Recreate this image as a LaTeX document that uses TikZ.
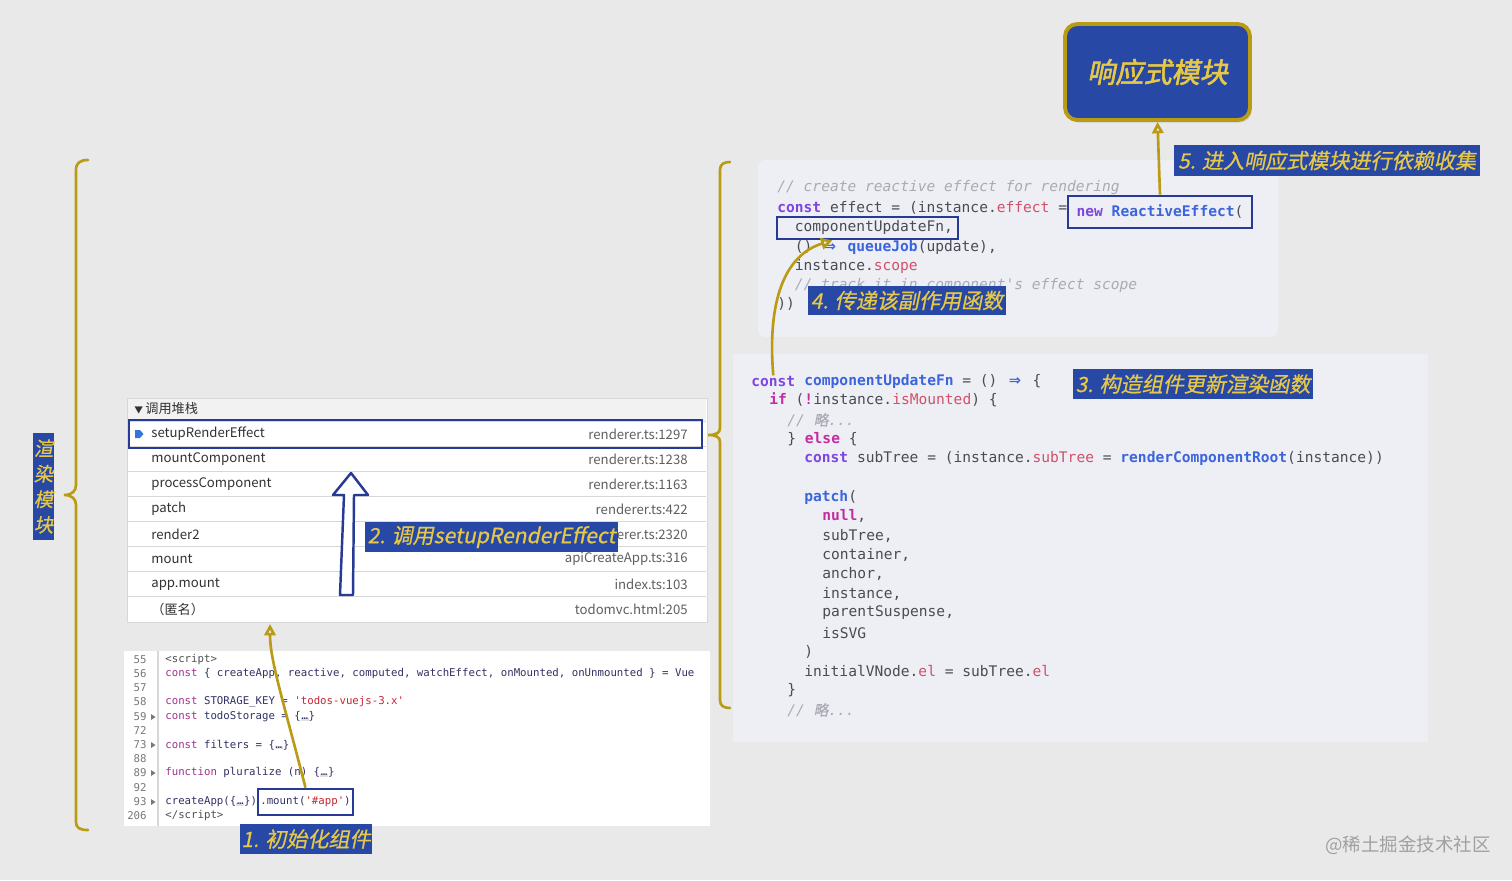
\documentclass[tikz,border=0pt]{standalone}
\usepackage{fontspec}
\setmonofont{DejaVu Sans Mono}
\newfontfamily\cjk{Noto Sans CJK SC}
\newfontfamily\cjkit[FakeSlant=0.2,FakeBold=0.6]{Noto Sans CJK SC}
\newfontfamily\cjkbf[FakeSlant=0.2,FakeBold=2]{Noto Sans CJK SC}
\newfontfamily\arrowfont{DejaVu Sans}
\usetikzlibrary{arrows.meta,fit,shadows}

\definecolor{bggray}{RGB}{233,233,233}
\definecolor{panelbg}{RGB}{237,239,245}
\definecolor{lblue}{RGB}{40,72,165}
\definecolor{lyellow}{RGB}{230,200,70}
\definecolor{gold}{RGB}{185,155,20}
\definecolor{navy}{RGB}{38,58,150}
\definecolor{codetext}{RGB}{75,75,85}
\definecolor{kwpurple}{RGB}{125,70,225}
\definecolor{kwmag}{RGB}{195,45,160}
\definecolor{fnblue}{RGB}{60,100,220}
\definecolor{prred}{RGB}{210,80,105}
\definecolor{cmgray}{RGB}{170,170,180}
\definecolor{stacktext}{RGB}{50,50,50}
\definecolor{filegray}{RGB}{95,95,95}
\definecolor{linegray}{RGB}{215,215,215}
\definecolor{headgray}{RGB}{242,242,242}
\definecolor{numgray}{RGB}{120,120,120}
\definecolor{skwcol}{RGB}{160,50,140}
\definecolor{sidcol}{RGB}{50,50,100}
\definecolor{sstcol}{RGB}{195,40,50}
\definecolor{tagcol}{RGB}{80,80,80}
\definecolor{elbg}{RGB}{225,225,225}
\definecolor{markgray}{RGB}{160,160,160}
\definecolor{markblue}{RGB}{50,120,220}

% code colouring
\newcommand\kw[1]{\textcolor{kwpurple}{\bfseries #1}}
\newcommand\mg[1]{\textcolor{kwmag}{\bfseries #1}}
\newcommand\fnc[1]{\textcolor{fnblue}{\bfseries #1}}
\newcommand\prp[1]{\textcolor{prred}{#1}}
\newcommand\cmt[1]{\textcolor{cmgray}{\itshape #1}}
\newcommand\skw[1]{\textcolor{skwcol}{#1}}
\newcommand\sst[1]{\textcolor{sstcol}{#1}}
\newcommand\darr{\makebox[1.204em]{\textcolor{fnblue}{\arrowfont\bfseries ⇒}}}
\newcommand\ellbox{\begingroup\setlength\fboxsep{0.4pt}\colorbox{elbg}{…}\endgroup}

\tikzset{
  lbl/.style={fill=lblue, text=lyellow, inner sep=0pt, font=\cjkit\fontsize{12}{14}\selectfont},
  hilite/.style={draw=navy, line width=1.5pt, inner sep=0pt},
  code/.style={anchor=west, inner sep=0pt, text=codetext, font=\ttfamily\fontsize{8.3}{11}\selectfont},
  scode/.style={anchor=west, inner sep=0pt, text=sidcol, font=\ttfamily\fontsize{6.1}{8}\selectfont},
  lnum/.style={anchor=east, inner sep=0pt, text=numgray, font=\ttfamily\fontsize{6.1}{8}\selectfont},
  stackname/.style={anchor=west, inner sep=0pt, text=stacktext, font=\cjk\fontsize{7.5}{9}\selectfont},
  stackfile/.style={anchor=east, inner sep=0pt, text=filegray, font=\cjk\fontsize{7.5}{9}\selectfont},
  rowsep/.style={draw=linegray, line width=0.6pt},
  brace/.style={draw=gold, line width=1.5pt, line cap=round},
  goldarrow/.style={draw=gold, line width=1.5pt, -{Triangle[open, length=6.5pt, width=6.5pt]}},
}

\begin{document}
\begin{tikzpicture}[x=0.02cm, y=-0.02cm]

  % --- Canvas ---
  \fill[bggray] (0,0) rectangle (1512,880);
  \useasboundingbox (0,0) rectangle (1512,880);

  % --- Reactive module ---
  \node[minimum width=3.7cm, minimum height=1.92cm, inner sep=0pt, rounded corners=7pt,
        draw=gold, line width=2.2pt, fill=lblue, text=lyellow,
        drop shadow={opacity=0.25, shadow xshift=1pt, shadow yshift=-1.5pt},
        font=\cjkbf\fontsize{16}{18}\selectfont] (reactive) at (1157.5,72) {响应式模块};

  % --- Effect code panel ---
  \fill[panelbg, rounded corners=4pt] (758,160) rectangle (1278,337);
  \node[code] (t1) at (777,188) {\cmt{// create reactive effect for rendering}};
  \node[code] (t2) at (777,208) {\kw{const} effect = (instance.\prp{effect} =};
  \node[code] (t3) at (794.5,227) {componentUpdateFn,};
  \node[code] (t4) at (794.5,247) {() \darr{} \fnc{queueJob}(update),};
  \node[code] (t5) at (794.5,266) {instance.\prp{scope}};
  \node[code] (t6) at (794.5,285) {\cmt{// track it in component's effect scope}};
  \node[code] (t7) at (777,304) {))};
  \node[hilite, minimum width=3.62cm, minimum height=0.44cm] (cubox) at (867.5,228) {};
  \node[hilite, minimum width=3.68cm, minimum height=0.64cm, text=codetext,
        font=\ttfamily\fontsize{8.3}{11}\selectfont] (newre) at (1160,212) {\kw{new} \fnc{ReactiveEffect}(};

  % --- Update function code panel ---
  \fill[panelbg] (733,354) rectangle (1428,742);
  \node[code] (cuconst) at (751,381) {\kw{const}};
  \node[code] (b1) at (804,381) {\fnc{componentUpdateFn} = () \darr{} \{};
  \node[code] (b2) at (769,400) {\mg{if} (\mg{!}instance.\prp{isMounted}) \{};
  \node[code] (b3) at (787,420) {\cmt{// {\cjkit 略}...}};
  \node[code] (b4) at (787,439) {\} \mg{else} \{};
  \node[code] (b5) at (804,458) {\kw{const} subTree = (instance.\prp{subTree} = \fnc{renderComponentRoot}(instance))};
  \node[code] (b6) at (804,497) {\fnc{patch}(};
  \node[code] (b7) at (822,516) {\mg{null},};
  \node[code] (b8) at (822,536) {subTree,};
  \node[code] (b9) at (822,555) {container,};
  \node[code] (b10) at (822,574) {anchor,};
  \node[code] (b11) at (822,594) {instance,};
  \node[code] (b12) at (822,613) {parentSuspense,};
  \node[code] (b13) at (822,633) {isSVG};
  \node[code] (b14) at (804,652) {)};
  \node[code] (b15) at (804,671) {initialVNode.\prp{el} = subTree.\prp{el}};
  \node[code] (b16) at (787,690) {\}};
  \node[code] (b17) at (787,710) {\cmt{// {\cjkit 略}...}};

  % labels 3-5
  \node[lbl, minimum width=4.8cm, minimum height=0.6cm] (l3) at (1193,384) {3. 构造组件更新渲染函数};
  \node[lbl, minimum width=3.96cm, minimum height=0.58cm] (l4) at (907,300.5) {4. 传递该副作用函数};
  \node[lbl, minimum width=6.12cm, minimum height=0.62cm] (l5) at (1327,160.5) {5. 进入响应式模块进行依赖收集};

  \draw[goldarrow] (newre.north) -- (reactive.south);
  \draw[goldarrow] (cuconst.north) .. controls (767,300) and (785,255) .. ([xshift=-0.7cm]cubox.south);

  % --- Middle brace ---
  \draw[brace] (730,162) .. controls (724,162) and (720,164) .. (720,170) -- (720,428)
    .. controls (720,433) and (716,435) .. (708,435)
    .. controls (716,435) and (720,437) .. (720,442) -- (720,700)
    .. controls (720,706) and (724,708) .. (730,708);

  % --- Call stack panel ---
  \node[fit={(127,398) (707,622)}, inner sep=0pt, fill=white, draw=linegray] (stack) {};
  \fill[headgray] (128,399) rectangle (706,421);
  \node[anchor=west, inner sep=0pt, text=stacktext, font=\cjk\fontsize{7.5}{9}\selectfont]
    (head) at (134,409) {{\fontsize{5}{5}\selectfont ▼}\,调用堆栈};
  \foreach \i in {0,...,7}
    \draw[rowsep] (128,{421.5+25*\i}) -- (706,{421.5+25*\i});
  \foreach \nm/\src [count=\i] in {setupRenderEffect/renderer.ts:1297,
      mountComponent/renderer.ts:1238, processComponent/renderer.ts:1163,
      patch/renderer.ts:422, render2/renderer.ts:2320, mount/apiCreateApp.ts:316,
      app.mount/index.ts:103, （匿名）/todomvc.html:205}{
    \node[stackname] (n\i) at (151,{409+25*\i}) {\nm};
    \node[stackfile] (f\i) at (688,{409+25*\i}) {\src};
  }
  \fill[markblue] (135,430) -- (140,430) -- (143.5,434) -- (140,438) -- (135,438) -- cycle;
  \node[hilite, fit={(129,420) (702,448)}] (curbox) {};

  % hollow arrow and label 2
  \draw[navy, line width=1.4pt, fill=white, line join=round]
    (340,595) -- (353,595) -- (354,495) -- (368,495) -- (351,473)
    -- (333,495) -- (344,495) -- cycle;
  \node[lbl, minimum width=5.06cm, minimum height=0.6cm] (l2) at (491.5,537) {2. 调用setupRenderEffect};

  % --- Script panel ---
  \node[fit={(124,651) (710,826)}, inner sep=0pt, fill=white] (script) {};
  \draw[linegray, line width=0.6pt] (158,651) -- (158,826);
  \foreach \n/\yy in {55/660, 56/674, 57/688, 58/702, 59/717, 72/731,
      73/745, 88/759, 89/773, 92/788, 93/802, 206/816}
    \node[lnum] (ln\n) at (147,\yy) {\n};
  \foreach \yy in {717,745,773,802}
    \fill[numgray] (151,{\yy-3}) -- (155.5,\yy) -- (151,{\yy+3}) -- cycle;
  \node[scode] (s1) at (165,660) {\textcolor{tagcol}{<script>}};
  \node[scode] (s2) at (165,674) {\skw{const} \{ createApp, reactive, computed, watchEffect, onMounted, onUnmounted \} = Vue};
  \node[scode] (s3) at (165,702) {\skw{const} STORAGE\_KEY = \sst{'todos-vuejs-3.x'}};
  \node[scode] (s4) at (165,717) {\skw{const} todoStorage = \{\ellbox\}};
  \node[scode] (s5) at (165,745) {\skw{const} filters = \{\ellbox\}};
  \node[scode] (s6) at (165,773) {\skw{function} pluralize (n) \{\ellbox\}};
  \node[scode] (s7) at (165,802) {createApp(\{\ellbox\})};
  \node[scode] (s8) at (165,816) {\textcolor{tagcol}{</script>}};
  \node[hilite, minimum width=1.9cm, minimum height=0.52cm, fill=white, text=sidcol,
        font=\ttfamily\fontsize{6.1}{8}\selectfont] (mountbox) at (305.5,802) {.mount(\sst{'\#app'})};
  \node[lbl, minimum width=2.64cm, minimum height=0.6cm] (l1) at (306,839) {1. 初始化组件};

  \coordinate (anon) at (270,624);
  \draw[goldarrow] (mountbox.north) .. controls (283,700) and (270,660) .. (anon);

  % --- Left brace and render module ---
  \node[lbl, minimum width=0.42cm, minimum height=2.14cm, align=center,
        font=\cjkit\fontsize{11}{14.5}\selectfont] (render) at (43.5,486.5) {渲\\染\\模\\块};
  \draw[brace] (88,160) .. controls (80,160) and (76,163) .. (76,170) -- (76,485)
    .. controls (76,491) and (72,495) .. (64,495)
    .. controls (72,495) and (76,499) .. (76,505) -- (76,822)
    .. controls (76,828) and (80,830) .. (88,830);

  % --- Watermark ---
  \node[text=markgray, font=\cjk\fontsize{10.5}{12}\selectfont] (mark) at (1408,845) {@稀土掘金技术社区};

\end{tikzpicture}
\end{document}
